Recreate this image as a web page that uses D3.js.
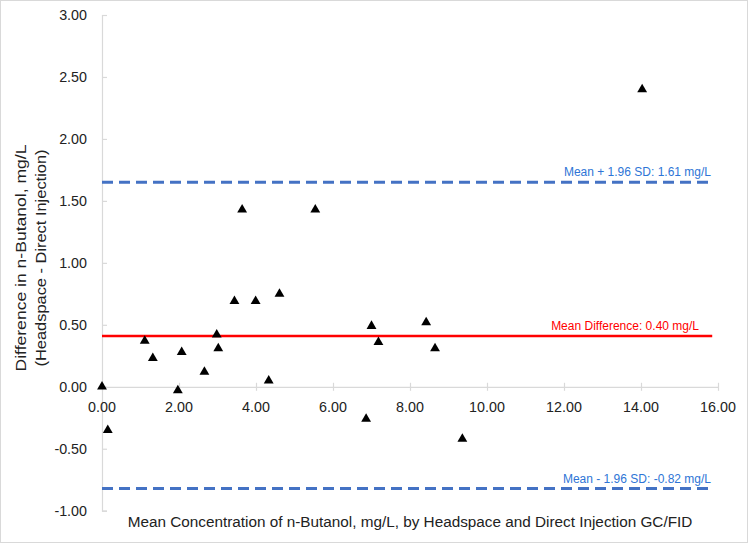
<!DOCTYPE html>
<html>
<head>
<meta charset="utf-8">
<script src="https://cdn.jsdelivr.net/npm/d3@7"></script>
<style>
  body { margin: 0; background: #fff; }
  text { font-family: "Liberation Sans", Arial, sans-serif; }
</style>
</head>
<body>
<script>
// mean concentration (x) and difference (y)
var meanConc = [0.00, 0.15, 1.11, 1.32, 1.97, 2.07, 2.66, 2.98, 3.02, 3.44, 3.64,
                3.99, 4.33, 4.61, 5.54, 6.86, 7.00, 7.18, 8.42, 8.65, 9.36, 14.03];
var diffVals = [0.00, -0.35, 0.37, 0.23, -0.03, 0.28, 0.12, 0.42, 0.31, 0.69, 1.43,
                0.69, 0.05, 0.75, 1.43, -0.26, 0.49, 0.36, 0.52, 0.31, -0.42, 2.40];

// reference lines: drawn value and label
var refNames = ["upper", "mean", "lower"];
var refValues = [1.65, 0.41, -0.82];
var refLabels = ["Mean + 1.96 SD: 1.61 mg/L", "Mean Difference: 0.40 mg/L", "Mean - 1.96 SD: -0.82 mg/L"];
var refEnd = 15.85;

var xTicks = [0, 2, 4, 6, 8, 10, 12, 14, 16];
var yTicks = [-1, -0.5, 0, 0.5, 1, 1.5, 2, 2.5, 3];

var W = 750, H = 545;
var axisCol = "#d9d9d9";

var svg = d3.select("body").append("svg")
  .attr("width", W)
  .attr("height", H);

// light frame round the chart
svg.append("rect")
  .attr("x", 0.5).attr("y", 0.5)
  .attr("width", W - 3).attr("height", H - 3)
  .attr("fill", "#fff")
  .attr("stroke", axisCol);

var x = d3.scaleLinear().domain([0, 16]).range([102, 718]);
var y = d3.scaleLinear().domain([-1, 3]).range([510.7, 15]);

// y axis: line with short ticks on the inside
var yAxis = svg.append("g")
  .attr("transform", "translate(" + x(0) + ",0)")
  .call(d3.axisRight(y).tickValues(yTicks).tickSize(5).tickFormat(""));
yAxis.select(".domain").attr("stroke", axisCol).attr("stroke-width", 1.2);
yAxis.selectAll(".tick line").attr("stroke", axisCol).attr("stroke-width", 1.2);

svg.append("g").selectAll("text")
  .data(yTicks)
  .join("text")
  .attr("x", 87)
  .attr("y", function(d) { return y(d); })
  .attr("dy", "0.35em")
  .attr("text-anchor", "end")
  .attr("font-size", 14.3)
  .attr("fill", "#222")
  .text(function(d) { return d.toFixed(2); });

// x axis at y = 0 with crossing ticks
var xAxis = svg.append("g")
  .attr("transform", "translate(0," + y(0) + ")")
  .call(d3.axisBottom(x).tickValues(xTicks).tickSizeInner(0).tickSizeOuter(0).tickFormat(""));
xAxis.select(".domain").attr("stroke", axisCol).attr("stroke-width", 1.2);
xAxis.selectAll(".tick").append("line")
  .attr("y1", -4).attr("y2", 4)
  .attr("stroke", axisCol).attr("stroke-width", 1.2);

svg.append("g").selectAll("text")
  .data(xTicks)
  .join("text")
  .attr("x", function(d) { return x(d); })
  .attr("y", y(0) + 20)
  .attr("dy", "0.35em")
  .attr("text-anchor", "middle")
  .attr("font-size", 14.3)
  .attr("fill", "#222")
  .text(function(d) { return d.toFixed(2); });

// reference lines
var refColour = { upper: "#4472c4", mean: "#ff0000", lower: "#4472c4" };
var labelColour = { upper: "#2e75d6", mean: "#ff0000", lower: "#2e75d6" };

refNames.forEach(function(n, i) {
  svg.append("line")
    .attr("x1", x(0)).attr("x2", x(refEnd))
    .attr("y1", y(refValues[i])).attr("y2", y(refValues[i]))
    .attr("stroke", refColour[n])
    .attr("stroke-width", n == "mean" ? 2.5 : 3)
    .attr("stroke-dasharray", n == "mean" ? null : "11,6");
  svg.append("text")
    .attr("x", n == "mean" ? 699 : 711)
    .attr("y", y(refValues[i]) - 10)
    .attr("dy", "0.35em")
    .attr("text-anchor", "end")
    .attr("font-size", 12)
    .attr("fill", labelColour[n])
    .text(refLabels[i]);
});

// points
var pts = meanConc.map(function(v, i) { return [v, diffVals[i]]; });
svg.append("g").selectAll("path")
  .data(pts)
  .join("path")
  .attr("transform", function(d) { return "translate(" + x(d[0]) + "," + y(d[1]) + ")"; })
  .attr("d", d3.symbol().type(d3.symbolTriangle).size(42))
  .attr("fill", "#000");

// axis titles
svg.append("text")
  .attr("x", 410)
  .attr("y", 522)
  .attr("dy", "0.35em")
  .attr("text-anchor", "middle")
  .attr("font-size", 15.3)
  .attr("fill", "#222")
  .text("Mean Concentration of n-Butanol, mg/L, by Headspace and Direct Injection GC/FID");

var yt = svg.append("text")
  .attr("transform", "translate(0,258) rotate(-90)")
  .attr("text-anchor", "middle")
  .attr("font-size", 15.5)
  .attr("fill", "#222");
yt.append("tspan").attr("x", 0).attr("y", 26)
  .attr("textLength", 227).attr("lengthAdjust", "spacingAndGlyphs")
  .text("Difference in n-Butanol, mg/L");
yt.append("tspan").attr("x", 0).attr("y", 46)
  .attr("textLength", 217).attr("lengthAdjust", "spacingAndGlyphs")
  .text("(Headspace - Direct Injection)");
</script>
</body>
</html>
